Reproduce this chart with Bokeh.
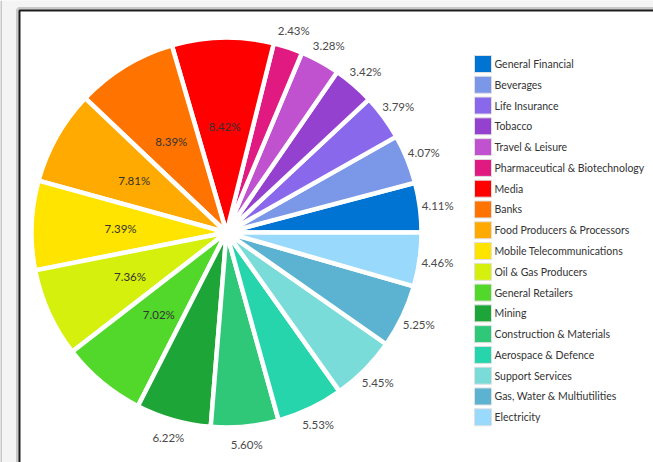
import numpy as np
from bokeh.plotting import figure
from bokeh.models import Range1d, ColumnDataSource
from bokeh.core.properties import value
from bokeh.embed import file_html
from bokeh.resources import INLINE

sectors = [
    "General Financial", "Beverages", "Life Insurance", "Tobacco",
    "Travel & Leisure", "Pharmaceutical & Biotechnology", "Media", "Banks",
    "Food Producers & Processors", "Mobile Telecommunications",
    "Oil & Gas Producers", "General Retailers", "Mining",
    "Construction & Materials", "Aerospace & Defence", "Support Services",
    "Gas, Water & Multiutilities", "Electricity",
]
shares = [4.11, 4.07, 3.79, 3.42, 3.28, 2.43, 8.42, 8.39, 7.81, 7.39,
          7.36, 7.02, 6.22, 5.60, 5.53, 5.45, 5.25, 4.46]
colors = ["#0074d2", "#7b97e8", "#8a68ec", "#9541d0", "#c052d0", "#e01a80",
          "#ff0000", "#ff7300", "#ffaa00", "#ffe400", "#d5f00c", "#52d82a",
          "#1ea537", "#2ec878", "#26d5ab", "#7adcd9", "#5cb3d1", "#98d9fc"]

W, H = 653, 462
CX, CY = 226, H - 232
R = 195
R_IN, R_OUT = 106, 213

vals = np.array(shares)
cum = np.concatenate([[0.0], np.cumsum(vals)])
start = cum[:-1] / cum[-1] * 2 * np.pi
end = cum[1:] / cum[-1] * 2 * np.pi
mid = (start + end) / 2
inside = vals >= 7.0
lr = np.where(inside, R_IN, R_OUT)
labels = [f"{v:.2f}%" for v in vals]

src = ColumnDataSource(dict(
    sector=sectors, share=vals, color=colors, start=start, end=end,
    lx=CX + lr * np.cos(mid), ly=CY + lr * np.sin(mid), label=labels,
    tcolor=["#333333" if i else "#4a4a4a" for i in inside],
))

p = figure(width=W, height=H, x_range=Range1d(0, W), y_range=Range1d(0, H),
           output_backend="svg", toolbar_location=None, min_border=0)
p.axis.visible = False
p.grid.visible = False
p.outline_line_color = None
p.background_fill_color = "#f4f4f4"
p.border_fill_color = "#f4f4f4"

# frame
p.segment(x0=0.5, y0=0, x1=0.5, y1=H, line_color="#9a9a9a", line_width=1)
p.quad(left=18, right=W + 10, top=H - 9, bottom=-10, fill_color=None,
       line_color="#c8c8c8", line_width=5)
p.quad(left=19, right=W + 10, top=H - 10, bottom=-10, fill_color="white",
       line_color="#1e1e1e", line_width=2)

# pie
p.wedge(x=CX, y=CY, radius=R, start_angle="start", end_angle="end",
        fill_color="color", line_color="white", line_width=4.5, source=src)

p.text(x="lx", y="ly", text="label", source=src, text_align="center",
       text_baseline="middle", text_font=value("Lato"),
       text_font_size="11.5px", text_color="tcolor")

# legend
n = len(sectors)
idx = np.arange(n)
ly = (H - 63.5) - idx * 20.78
lsrc = ColumnDataSource(dict(y=ly, color=colors, name=sectors))
p.rect(x=482.5, y="y", width=17, height=17, fill_color="color",
       line_color="#e0e0e0", line_width=1, source=lsrc)
p.text(x=494, y="y", text="name", source=lsrc, text_align="left",
       text_baseline="middle", text_font=value("Lato"),
       text_font_size="10.5px", text_color="#333333")

open("out.html", "w").write(file_html(p, INLINE))
